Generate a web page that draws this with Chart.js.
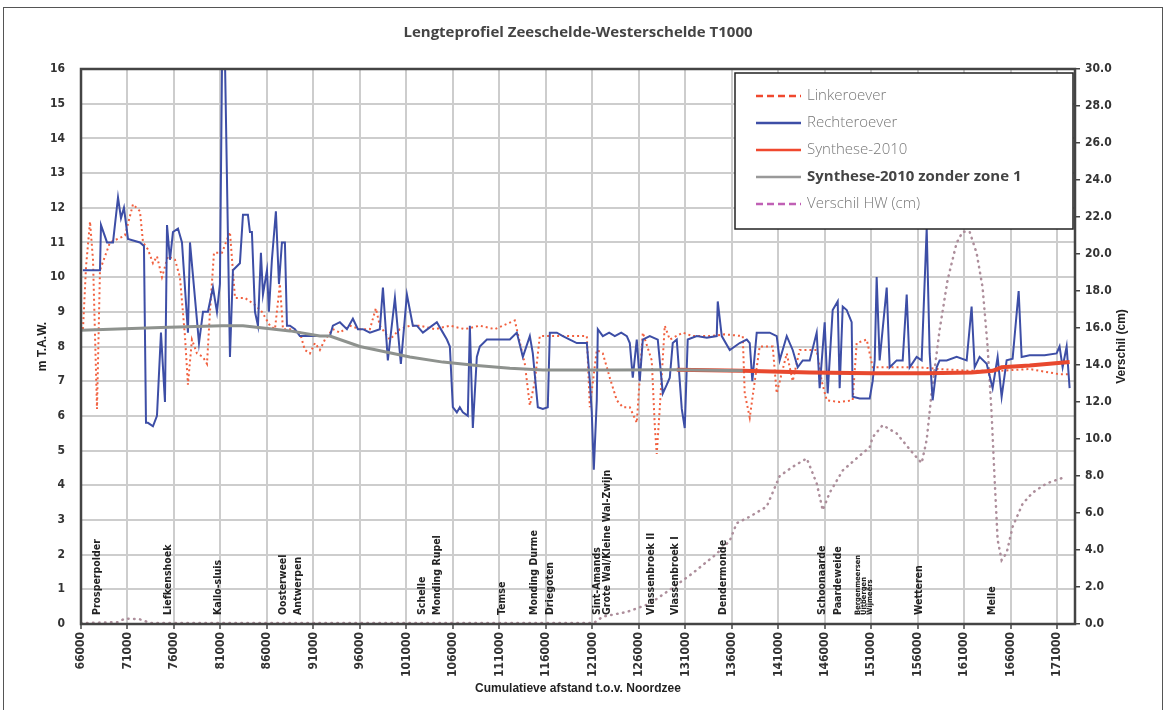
<!DOCTYPE html>
<html>
<head>
<meta charset="utf-8">
<script src="https://cdn.jsdelivr.net/npm/chart.js@4.4.1/dist/chart.umd.min.js"></script>
<style>
  html, body { margin: 0; padding: 0; background: #fff; overflow: hidden; }
  #frame { position: absolute; left: 3px; top: 7px; width: 1160px; height: 730px; border: 1.5px solid #555; box-sizing: border-box; }
  #c { position: absolute; left: 0; top: 0; }
</style>
</head>
<body>
<div id="frame"></div>
<canvas id="c" width="1167" height="710"></canvas>
<script>
// x-as ticks (cumulatieve afstand)
const xTicks = [66000, 71000, 76000, 81000, 86000, 91000, 96000, 101000, 106000, 111000, 116000,
  121000, 126000, 131000, 136000, 141000, 146000, 151000, 156000, 161000, 166000, 171000];

// Rechteroever (m TAW)
const rechterX = [66200, 68040, 68150, 68800, 69440, 69980, 70300, 70620, 71050, 72340, 72770, 72990,
  73200, 73740, 74170, 74600, 75030, 75250, 75570, 75890, 76430, 76860, 77500, 77720, 78690, 79120,
  79650, 80190, 80620, 80940, 81160, 81500, 82020, 82340, 83090, 83420, 83950, 84170, 84380, 84710,
  85030, 85350, 85570, 86000, 86210, 86530, 86960, 87290, 87610, 87930, 88150, 88470, 89010, 89540,
  90300, 91690, 92770, 93090, 93840, 94600, 95240, 95780, 96320, 97070, 98140, 98470, 99000, 99760,
  100400, 101050, 101690, 102120, 102770, 103520, 104270, 104920, 105350, 105670, 105990, 106420,
  106740, 107070, 107600, 107820, 108140, 108570, 108890, 109650, 111040, 112120, 112870, 113520,
  114270, 114590, 115130, 115670, 116200, 116420, 117170, 117820, 118570, 119320, 119970, 120400,
  120720, 120930, 121150, 121470, 121580, 122120, 122800, 123410, 124100, 124700, 125020, 125340,
  125770, 126090, 126420, 127170, 128030, 128570, 129000, 129320, 129640, 130070, 130610, 130930,
  131250, 132220, 133300, 134370, 134480, 134910, 135770, 136840, 137600, 137920, 138200, 138670,
  139320, 140070, 140820, 141140, 141900, 142540, 143080, 143620, 144370, 145120, 145440, 145980,
  146300, 146840, 147380, 147590, 147920, 148350, 148880, 148990, 149740, 150820, 151140, 151360,
  151570, 151890, 152650, 152970, 153720, 154370, 154800, 155120, 155870, 156410, 156950, 157270,
  157590, 158020, 158340, 159100, 160170, 161250, 161780, 162110, 162640, 163400, 164040, 164580,
  165010, 165550, 166190, 166840, 167160, 168020, 169630, 170920, 171240, 171570, 172000, 172320];
const rechterY = [10.2, 10.2, 11.5, 11.0, 11.0, 12.3, 11.7, 12.0, 11.1, 11.0, 10.9, 5.8,
  5.8, 5.7, 6.0, 8.4, 6.4, 11.5, 10.5, 11.3, 11.4, 11.0, 8.4, 11.0, 8.1, 9.0,
  9.0, 9.7, 9.0, 9.8, 16.0, 16.0, 7.7, 10.2, 10.4, 11.8, 11.8, 11.3, 11.3, 9.0,
  8.6, 10.7, 9.5, 10.2, 9.0, 10.5, 11.9, 9.8, 11.0, 11.0, 8.6, 8.6, 8.5, 8.3,
  8.3, 8.3, 8.3, 8.6, 8.7, 8.5, 8.8, 8.5, 8.5, 8.4, 8.5, 9.7, 7.6, 9.4,
  7.5, 9.5, 8.6, 8.6, 8.4, 8.55, 8.7, 8.4, 8.2, 8.0, 6.25, 6.1,
  6.25, 6.1, 6.0, 8.6, 5.65, 7.7, 8.0, 8.2, 8.2, 8.2, 8.4, 7.7,
  8.3, 7.8, 6.25, 6.2, 6.25, 8.4, 8.4, 8.3, 8.2, 8.1, 8.1, 8.1,
  7.0, 6.1, 4.45, 6.45, 8.5, 8.3, 8.4, 8.3, 8.4, 8.3, 8.1, 7.1,
  8.2, 7.0, 8.2, 8.3, 8.2, 6.65, 6.9, 7.1, 8.1, 8.2, 6.2, 5.65,
  8.2, 8.3, 8.25, 8.3, 9.3, 8.3, 7.9, 8.1, 8.2, 8.1, 7.0, 8.4,
  8.4, 8.4, 8.3, 7.6, 8.3, 7.9, 7.4, 7.6, 7.6, 8.4, 6.8, 8.7,
  6.65, 9.05, 9.3, 6.8, 9.15, 9.05, 8.7, 6.55, 6.5, 6.5, 7.0, 7.6,
  10.0, 7.6, 9.7, 7.4, 7.6, 7.6, 9.5, 7.4, 7.7, 7.6, 11.4, 7.8,
  6.45, 7.4, 7.6, 7.6, 7.7, 7.6, 9.15, 7.4, 7.7, 7.5, 6.8, 7.7,
  6.55, 7.6, 7.65, 9.6, 7.7, 7.75, 7.75, 7.8, 8.0, 7.4, 8.0, 6.8];

// Linkeroever (m TAW)
const linkerX = [66215, 66540, 66970, 67290, 67720, 68040, 69120, 70730, 71590, 72340, 72670, 73200,
  73740, 74170, 74710, 75350, 76110, 76640, 77180, 77500, 77930, 78470, 79120, 79550, 79870, 80300,
  81160, 82020, 82560, 83630, 84710, 85460, 86320, 86860, 87390, 87720, 88470, 89540, 90080, 90620,
  91160, 91690, 92230, 93090, 93840, 94920, 95990, 97070, 97710, 98140, 99220, 100290, 101370, 102440,
  104060, 105670, 107280, 108890, 110500, 112650, 113730, 114270, 114810, 115340, 117490, 120400,
  120720, 121470, 122120, 122870, 123620, 124270, 125020, 125770, 126420, 127380, 127710, 127920,
  128240, 128780, 129320, 130720, 131790, 133620, 135230, 137170, 137380, 137920, 138460, 138990,
  140390, 140820, 141900, 142540, 143290, 145120, 145660, 146200, 147590, 148990, 149420, 150500,
  151140, 154040, 156190, 158340, 161570, 164790, 168020, 171240, 172320];
const linkerY = [8.5, 10.3, 11.6, 10.5, 6.2, 10.2, 11.0, 11.2, 12.1, 11.9, 11.0, 10.8,
  10.4, 10.6, 10.0, 10.6, 10.5, 10.0, 8.3, 6.9, 8.2, 7.8, 7.7, 7.5, 9.0, 10.7,
  10.7, 11.3, 9.4, 9.4, 9.2, 9.0, 8.6, 8.5, 9.8, 8.5, 8.5, 8.4, 7.9, 7.8,
  8.1, 7.9, 8.2, 8.5, 8.4, 8.6, 8.5, 8.5, 9.1, 8.6, 8.2, 8.5, 8.6, 8.6,
  8.5, 8.6, 8.5, 8.6, 8.5, 8.75, 7.5, 6.3, 7.0, 8.3, 8.3, 8.3,
  6.25, 7.9, 7.8, 7.1, 6.45, 6.25, 6.25, 5.8, 8.4, 7.6, 5.7, 4.9,
  6.2, 8.6, 8.2, 8.4, 8.3, 8.3, 8.35, 8.3, 6.65, 5.95, 7.0, 8.0,
  8.0, 6.65, 7.8, 7.0, 7.9, 7.9, 7.0, 6.45, 6.4, 6.45, 8.1, 8.2,
  7.4, 7.4, 7.4, 7.35, 7.3, 7.3, 7.35, 7.2, 7.2];

// Synthese-2010 (m TAW)
const syntheseX = [130070, 137170, 144370, 151140, 156950, 161780, 164040, 165010, 168020, 172320];
const syntheseY = [7.33, 7.3, 7.25, 7.23, 7.23, 7.25, 7.3, 7.4, 7.45, 7.55];

// Synthese-2010 zonder zone 1 (m TAW)
const zonderX = [66000, 74600, 81160, 83420, 88470, 91690, 92770, 95990, 101370, 104920, 108570,
  112120, 115670, 122870, 130070, 137170];
const zonderY = [8.47, 8.55, 8.6, 8.6, 8.45, 8.3, 8.3, 8.0, 7.7, 7.55, 7.45,
  7.37, 7.32, 7.32, 7.33, 7.3];

// Verschil HW (cm)
const hwX = [66000, 69980, 70730, 72340, 73500, 80000, 90000, 100000, 110000, 120000, 121150, 122120,
  124700, 127170, 129320, 131790, 134370, 135770, 136520, 137920, 139750, 141140, 142540, 144050,
  145120, 145770, 146520, 147920, 149740, 150820, 151140, 152220, 153720, 155440, 156410, 156950,
  157480, 158340, 159200, 160170, 160820, 161570, 162320, 162960, 163500, 163930, 164260, 164580,
  165010, 165550, 166190, 167270, 168340, 169850, 171570, 172000];
const hwY = [0.05, 0.1, 0.3, 0.25, 0.05, 0.05, 0.05, 0.05, 0.05, 0.05, 0.05, 0.4,
  0.65, 1.1, 1.85, 2.75, 3.8, 4.5, 5.45, 5.8, 6.35, 8.0, 8.5, 8.95,
  7.6, 6.15, 7.1, 8.3, 9.1, 9.55, 10.1, 10.75, 10.3, 9.25, 8.7, 9.95,
  12.5, 15.9, 18.6, 20.6, 21.2, 21.2, 20.05, 18.2, 15.0, 11.4, 7.8, 4.55,
  3.45, 3.85, 5.25, 6.5, 7.1, 7.6, 7.9, 7.9];

// Plaatsnamen langs de rivier
const plaatsen = ['Prosperpolder', 'Liefkenshoek', 'Kallo-sluis', 'Oosterweel', 'Antwerpen', 'Schelle',
  'Monding Rupel', 'Temse', 'Monding Durme', 'Driegoten', 'Sint-Amands', 'Grote Wal/Kleine Wal-Zwijn',
  'Vlassenbroek II', 'Vlassenbroek I', 'Dendermonde', 'Schoonaarde', 'Paardeweide', 'Bergenmeersen',
  'Uitbergen', 'Wijmeers', 'Wetteren', 'Melle'];
const plaatsX = [67720, 75350, 80730, 87720, 89330, 102660, 104270, 111260, 114800, 116420, 121470, 122550,
  127280, 129860, 135020, 145770, 147490, 149530, 150170, 150820, 156190, 164040];

function pts(xs, ys) {
  return xs.map((x, i) => ({ x: x, y: ys[i] }));
}

const axisFont = { family: "'Liberation Sans Narrow', 'DejaVu Sans Condensed', 'Liberation Sans', sans-serif", size: 12, weight: 'bold' };
const gridColor = '#cdcdcd';

// Titels, plaatsnamen, kader en legende
const extras = {
  id: 'extras',
  afterDraw(chart) {
    const ctx = chart.ctx;
    const a = chart.chartArea;
    const xs = chart.scales.x;

    ctx.save();
    // kader rond plot
    ctx.strokeStyle = '#444';
    ctx.lineWidth = 2.5;
    ctx.strokeRect(a.left, a.top, a.right - a.left, a.bottom - a.top);

    // titel
    ctx.fillStyle = '#444';
    ctx.font = "bold 15px 'Open Sans', sans-serif";
    ctx.textAlign = 'center';
    ctx.textBaseline = 'middle';
    ctx.fillText('Lengteprofiel Zeeschelde-Westerschelde T1000', (a.left + a.right) / 2, 33);

    // as-titels
    ctx.fillStyle = '#222';
    ctx.font = "bold 12px 'Liberation Sans', sans-serif";
    ctx.fillText('Cumulatieve afstand t.o.v. Noordzee', (a.left + a.right) / 2, 689);
    const midY = (a.top + a.bottom) / 2;
    ctx.save();
    ctx.translate(43, midY);
    ctx.rotate(-Math.PI / 2);
    ctx.fillText('m T.A.W.', 0, 0);
    ctx.restore();
    ctx.save();
    ctx.translate(1122, midY);
    ctx.rotate(-Math.PI / 2);
    ctx.fillText('Verschil (cm)', 0, 0);
    ctx.restore();

    // plaatsnamen
    const klein = ['Bergenmeersen', 'Uitbergen', 'Wijmeers'];
    ctx.fillStyle = '#222';
    ctx.textAlign = 'left';
    plaatsen.forEach((naam, i) => {
      const px = xs.getPixelForValue(plaatsX[i]);
      ctx.save();
      ctx.translate(px, a.bottom - 9);
      ctx.rotate(-Math.PI / 2);
      ctx.font = (klein.includes(naam) ? 'bold 7.5px ' : 'bold 10.5px ') +
        "'Liberation Sans Narrow', 'DejaVu Sans Condensed', 'Liberation Sans', sans-serif";
      ctx.fillText(naam, 0, 0);
      ctx.restore();
    });

    // legende
    const lx = 735, ly = 73, lw = 338, lh = 156;
    ctx.fillStyle = '#fff';
    ctx.fillRect(lx, ly, lw, lh);
    ctx.strokeStyle = '#222';
    ctx.lineWidth = 1.5;
    ctx.strokeRect(lx, ly, lw, lh);
    chart.data.datasets.forEach((ds, i) => {
      const y = 96 + i * 27;
      ctx.save();
      ctx.strokeStyle = ds.legendColor;
      ctx.lineWidth = 2.5;
      ctx.setLineDash(ds.legendDash);
      ctx.beginPath();
      ctx.moveTo(756, y);
      ctx.lineTo(801, y);
      ctx.stroke();
      ctx.restore();
      ctx.fillStyle = ds.legendBold ? '#444' : '#777';
      ctx.font = (ds.legendBold ? '700' : '300') + " 15px 'Open Sans', sans-serif";
      ctx.textBaseline = 'middle';
      ctx.fillText(ds.label, 807, y);
    });
    ctx.restore();
  }
};

new Chart(document.getElementById('c'), {
  type: 'line',
  data: {
    datasets: [
      {
        label: 'Linkeroever',
        data: pts(linkerX, linkerY),
        borderColor: '#f1603f',
        borderWidth: 2,
        borderDash: [2, 3],
        yAxisID: 'y',
        order: 4,
        legendColor: '#f0482e', legendDash: [7, 4]
      },
      {
        label: 'Rechteroever',
        data: pts(rechterX, rechterY),
        borderColor: '#3d4ea6',
        borderWidth: 2,
        yAxisID: 'y',
        order: 3,
        legendColor: '#3d4ea6', legendDash: []
      },
      {
        label: 'Synthese-2010',
        data: pts(syntheseX, syntheseY),
        borderColor: '#e8482e',
        borderWidth: 4,
        yAxisID: 'y',
        order: 2,
        legendColor: '#f0482e', legendDash: []
      },
      {
        label: 'Synthese-2010 zonder zone 1',
        data: pts(zonderX, zonderY),
        borderColor: '#8e928e',
        borderWidth: 3,
        yAxisID: 'y',
        order: 1,
        legendColor: '#999', legendDash: [], legendBold: true
      },
      {
        label: 'Verschil HW (cm)',
        data: pts(hwX, hwY),
        borderColor: '#ad8e9b',
        borderWidth: 2.5,
        borderDash: [0.5, 5.5],
        borderCapStyle: 'round',
        yAxisID: 'y2',
        order: 5,
        legendColor: '#c060b5', legendDash: [7, 4]
      }
    ]
  },
  options: {
    responsive: false,
    animation: false,
    devicePixelRatio: 1,
    parsing: true,
    elements: { point: { radius: 0 }, line: { tension: 0 } },
    layout: { padding: { top: 69, left: 0, right: 0, bottom: 0 } },
    plugins: { legend: { display: false }, tooltip: { enabled: false }, title: { display: false } },
    scales: {
      x: {
        type: 'linear',
        min: 66000,
        max: 172900,
        afterBuildTicks: s => { s.ticks = xTicks.map(v => ({ value: v })); },
        afterFit: s => { s.height = 86; },
        ticks: {
          autoSkip: false, minRotation: 90, maxRotation: 90,
          font: axisFont, color: '#333', padding: 3,
          callback: v => String(v)
        },
        grid: { color: gridColor, lineWidth: 2, tickLength: 5, tickColor: '#444', tickWidth: 1.5 },
        border: { display: false }
      },
      y: {
        position: 'left',
        min: 0, max: 16,
        afterFit: s => { s.width = 81; },
        ticks: { stepSize: 1, font: axisFont, color: '#333', padding: 16 },
        grid: { color: gridColor, lineWidth: 2, drawTicks: false },
        border: { display: false }
      },
      y2: {
        position: 'right',
        min: 0, max: 30,
        afterFit: s => { s.width = 92; },
        ticks: { stepSize: 2, font: axisFont, color: '#333', padding: 5, callback: v => v.toFixed(1) },
        grid: { drawOnChartArea: false, tickLength: 5, color: '#444', lineWidth: 1.5 },
        border: { display: false }
      }
    }
  },
  plugins: [extras]
});
</script>
</body>
</html>
